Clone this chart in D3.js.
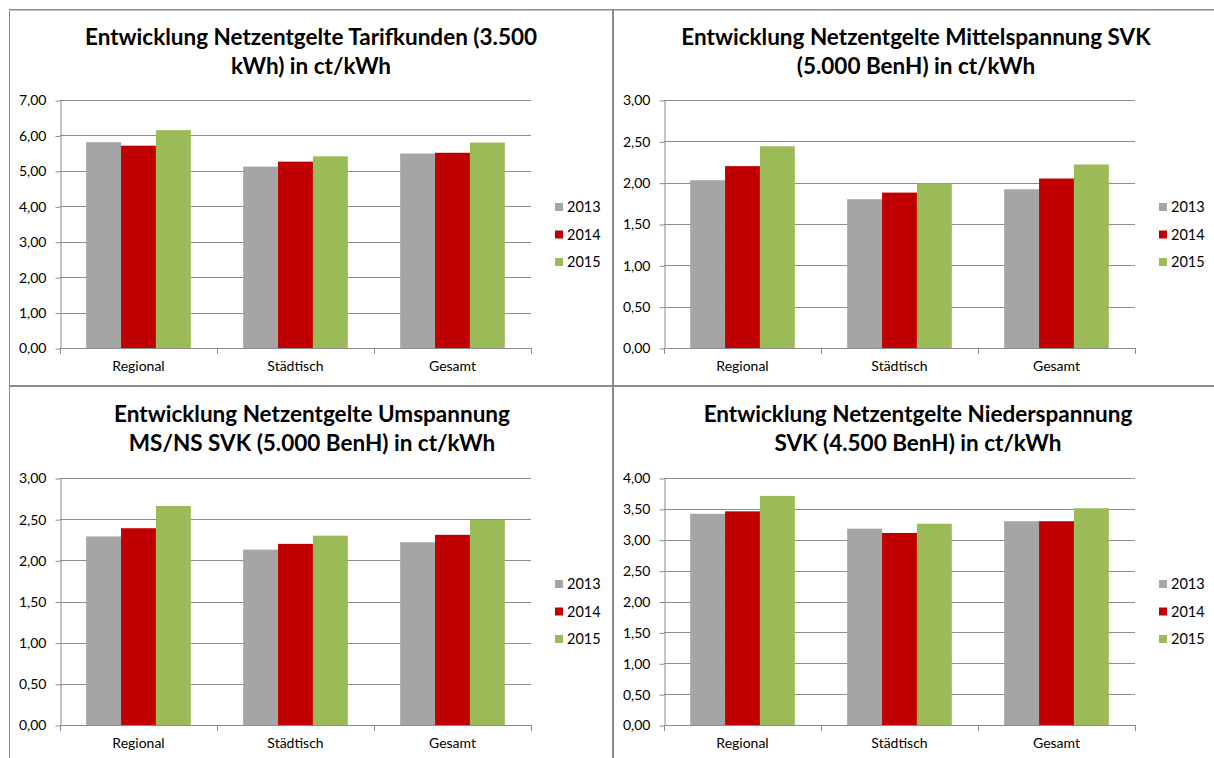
<!DOCTYPE html>
<html>
<head>
<meta charset="utf-8">
<script src="https://cdn.jsdelivr.net/npm/d3@7"></script>
<style>
  html, body { margin: 0; padding: 0; background: #ffffff; }
  svg { display: block; }
</style>
</head>
<body>
<svg id="chart" width="1214" height="758"></svg>
<script>
// ---------------- DATA ----------------
const categories = ["Regional", "Städtisch", "Gesamt"];
const years = ["2013", "2014", "2015"];

// Chart 1: Tarifkunden (3.500 kWh)
const tarifTitle = ["Entwicklung Netzentgelte Tarifkunden (3.500", "kWh) in ct/kWh"];
const tarif2013 = [5.81, 5.12, 5.49];
const tarif2014 = [5.71, 5.26, 5.51];
const tarif2015 = [6.15, 5.41, 5.80];
const tarifTicks = [0, 1, 2, 3, 4, 5, 6, 7];

// Chart 2: Mittelspannung SVK (5.000 BenH)
const mittelTitle = ["Entwicklung Netzentgelte Mittelspannung SVK", "(5.000 BenH) in ct/kWh"];
const mittel2013 = [2.03, 1.80, 1.92];
const mittel2014 = [2.20, 1.88, 2.05];
const mittel2015 = [2.44, 1.99, 2.22];
const mittelTicks = [0, 0.5, 1, 1.5, 2, 2.5, 3];

// Chart 3: Umspannung MS/NS SVK (5.000 BenH)
const umspTitle = ["Entwicklung Netzentgelte Umspannung", "MS/NS SVK (5.000 BenH) in ct/kWh"];
const umsp2013 = [2.29, 2.13, 2.22];
const umsp2014 = [2.39, 2.20, 2.31];
const umsp2015 = [2.66, 2.30, 2.49];
const umspTicks = [0, 0.5, 1, 1.5, 2, 2.5, 3];

// Chart 4: Niederspannung SVK (4.500 BenH)
const niederTitle = ["Entwicklung Netzentgelte Niederspannung", "SVK (4.500 BenH) in ct/kWh"];
const nieder2013 = [3.42, 3.18, 3.30];
const nieder2014 = [3.46, 3.11, 3.30];
const nieder2015 = [3.71, 3.26, 3.51];
const niederTicks = [0, 0.5, 1, 1.5, 2, 2.5, 3, 3.5, 4];

const seriesColors = ["#A5A5A5", "#C00000", "#9BBB59"];

// ---------------- LAYOUT ----------------
const svg = d3.select("#chart");
const FONT = "Lato, 'Open Sans', 'DejaVu Sans', sans-serif";
const GRID = "#8c8c8c";

const panels = [
  { title: tarifTitle,  series: [tarif2013, tarif2014, tarif2015],    ticks: tarifTicks,
    top: 10,  titleX: 311, x0: 60,  x1: 531,  yTop: 100, yBot: 348 },
  { title: mittelTitle, series: [mittel2013, mittel2014, mittel2015], ticks: mittelTicks,
    top: 10,  titleX: 916, x0: 664, x1: 1135, yTop: 100, yBot: 348 },
  { title: umspTitle,   series: [umsp2013, umsp2014, umsp2015],       ticks: umspTicks,
    top: 387, titleX: 312, x0: 60,  x1: 531,  yTop: 478, yBot: 725 },
  { title: niederTitle, series: [nieder2013, nieder2014, nieder2015], ticks: niederTicks,
    top: 387, titleX: 918, x0: 664, x1: 1135, yTop: 478, yBot: 725 }
];

// frame lines
const frame = svg.append("g").attr("stroke", "#8a8a8a").attr("fill", "none");
frame.append("line").attr("x1", 9.5).attr("x2", 9.5).attr("y1", 9).attr("y2", 758);
frame.append("line").attr("x1", 9).attr("x2", 1214).attr("y1", 9.5).attr("y2", 9.5);
frame.append("line").attr("x1", 9).attr("x2", 1214).attr("y1", 10.5).attr("y2", 10.5).attr("stroke", "#c8c8c8");
frame.append("line").attr("x1", 613).attr("x2", 613).attr("y1", 9).attr("y2", 758).attr("stroke-width", 2);
frame.append("line").attr("x1", 9).attr("x2", 1214).attr("y1", 386).attr("y2", 386).attr("stroke-width", 2);

const fmt = d => d.toFixed(2).replace(".", ",");

panels.forEach(p => {
  const g = svg.append("g");

  // title
  const t = g.append("text")
    .attr("x", p.titleX)
    .attr("y", p.top + 35)
    .attr("text-anchor", "middle")
    .attr("font-family", FONT)
    .attr("font-weight", "bold")
    .attr("font-size", 22.5)
    .attr("fill", "#000");
  p.title.forEach((line, i) => {
    t.append("tspan").attr("x", p.titleX).attr("dy", i === 0 ? 0 : 29).text(line);
  });

  const maxV = p.ticks[p.ticks.length - 1];
  const y = d3.scaleLinear().domain([0, maxV]).range([p.yBot, p.yTop]);
  const x = d3.scaleBand().domain(categories).range([p.x0, p.x1]).paddingInner(0).paddingOuter(0);
  const xs = d3.scaleBand().domain(years).range([0, x.bandwidth()]).paddingInner(0).paddingOuter(0.75);

  // gridlines
  g.append("g").selectAll("line").data(p.ticks.filter(v => v > 0)).join("line")
    .attr("x1", p.x0).attr("x2", p.x1)
    .attr("y1", d => Math.round(y(d)) + 0.5).attr("y2", d => Math.round(y(d)) + 0.5)
    .attr("stroke", GRID).attr("stroke-width", 1);

  // bars
  const rows = categories.map((c, ci) => ({ cat: c, vals: years.map((yr, si) => ({ yr, si, v: p.series[si][ci] })) }));
  g.append("g").selectAll("g").data(rows).join("g")
    .attr("transform", d => `translate(${x(d.cat)},0)`)
    .selectAll("rect").data(d => d.vals).join("rect")
    .attr("x", d => xs(d.yr))
    .attr("width", xs.bandwidth())
    .attr("y", d => y(d.v))
    .attr("height", d => y(0) - y(d.v))
    .attr("fill", d => seriesColors[d.si]);

  // y axis
  const yAxis = d3.axisLeft(y).tickValues(p.ticks).tickFormat(fmt).tickSizeInner(5).tickSizeOuter(0).tickPadding(9);
  const ya = g.append("g").attr("transform", `translate(${p.x0 + 0.5},0.5)`).call(yAxis);
  ya.select(".domain").attr("stroke", GRID);
  ya.selectAll(".tick line").attr("stroke", GRID);
  ya.selectAll(".tick text").attr("font-family", FONT).attr("font-size", 14).attr("fill", "#000");

  // x axis line
  g.append("line").attr("x1", p.x0).attr("x2", p.x1)
    .attr("y1", Math.round(y(0)) + 0.5).attr("y2", Math.round(y(0)) + 0.5)
    .attr("stroke", GRID);
  // x tick marks at category boundaries
  const bounds = categories.map(c => x(c)).concat([p.x1]);
  g.append("g").selectAll("line").data(bounds).join("line")
    .attr("x1", d => Math.round(d) + 0.5).attr("x2", d => Math.round(d) + 0.5)
    .attr("y1", Math.round(y(0))).attr("y2", Math.round(y(0)) + 6)
    .attr("stroke", GRID);
  // category labels
  g.append("g").selectAll("text").data(categories).join("text")
    .attr("x", d => x(d) + x.bandwidth() / 2)
    .attr("y", y(0) + 23)
    .attr("text-anchor", "middle")
    .attr("font-family", FONT).attr("font-size", 14).attr("fill", "#000")
    .text(d => d);

  // legend
  const lg = g.append("g");
  years.forEach((yr, i) => {
    const cy = p.top + 197 + i * 27.5;
    lg.append("rect").attr("x", p.x1 + 24).attr("y", cy - 4).attr("width", 8).attr("height", 8)
      .attr("fill", seriesColors[i]);
    lg.append("text").attr("x", p.x1 + 36).attr("y", cy).attr("dy", "0.35em")
      .attr("font-family", FONT).attr("font-size", 14.5).attr("fill", "#000").text(yr);
  });
});
</script>
</body>
</html>
